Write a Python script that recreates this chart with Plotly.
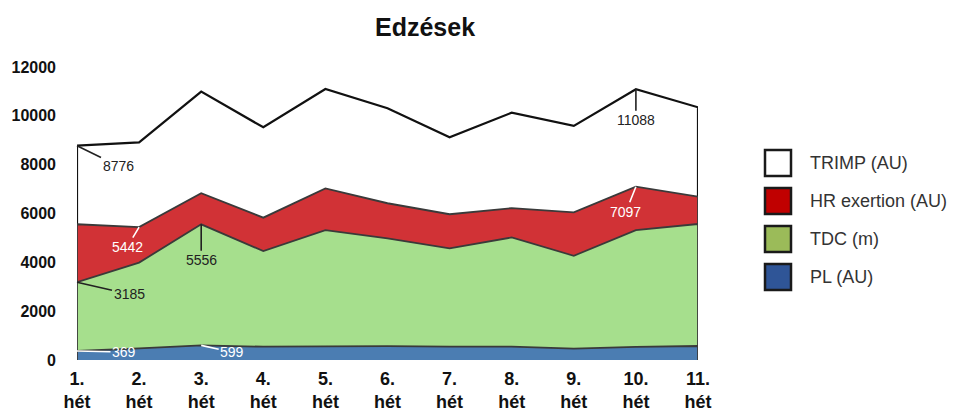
import plotly.graph_objects as go

weeks = ["1.<br>hét", "2.<br>hét", "3.<br>hét", "4.<br>hét", "5.<br>hét", "6.<br>hét",
         "7.<br>hét", "8.<br>hét", "9.<br>hét", "10.<br>hét", "11.<br>hét"]
trimp = [8776, 8910, 10990, 9530, 11100, 10310, 9120, 10130, 9590, 11088, 10350]
hr_exertion = [5560, 5442, 6830, 5830, 7030, 6420, 5970, 6220, 6050, 7097, 6690]
tdc = [3185, 3990, 5556, 4460, 5320, 4980, 4570, 5020, 4270, 5320, 5570]
pl = [369, 480, 599, 545, 573, 570, 545, 545, 465, 540, 573]

series = [
    ("TRIMP (AU)", trimp, "#ffffff", "#111111", "#ffffff"),
    ("HR exertion (AU)", hr_exertion, "#d13236", "#3a3a3a", "#c00000"),
    ("TDC (m)", tdc, "#a6df8d", "#3a3a3a", "#9bbb59"),
    ("PL (AU)", pl, "#4b7db2", "#3a3a3a", "#2f5597"),
]

FONT = "Liberation Sans, Arial, sans-serif"
# page body has an 8px margin, so the figure is a bit smaller than the window
W, H = 950, 406
L, R, T, B = 69, 260, 59, 54
PW, PH = W - L - R, H - T - B

fig = go.Figure()
for name, vals, fill, line, legend_col in series:
    # closed polygon so the area has an outline on all sides
    fig.add_trace(go.Scatter(
        x=[weeks[0]] + weeks + [weeks[-1]], y=[0] + vals + [0],
        mode="lines", fill="toself", fillcolor=fill,
        line=dict(color=line, width=2.2 if name.startswith("TRIMP") else 1.8),
        name=name, showlegend=False, hoverinfo="skip",
    ))

# legend drawn by hand: big outlined squares like the original
for i, (name, vals, fill, line, legend_col) in enumerate(series):
    cx = (770 - L) / PW
    cy = (H - B - (155 + 38 * i)) / PH
    hw, hh = 13 / PW, 13 / PH
    fig.add_shape(type="rect", xref="paper", yref="paper",
                  x0=cx - hw, x1=cx + hw, y0=cy - hh, y1=cy + hh,
                  fillcolor=legend_col, line=dict(color="#1a1a1a", width=2.5))
    fig.add_annotation(xref="paper", yref="paper", x=(800 - L) / PW, y=cy,
                       xanchor="left", yanchor="middle", showarrow=False, text=name,
                       font=dict(family=FONT, size=18, color="#333333"))

def label(x, y, text, ax, ay, color):
    fig.add_annotation(x=x, y=y, text=text, ax=ax, ay=ay, showarrow=True,
                       arrowhead=0, arrowwidth=1.6, arrowcolor=color, standoff=0,
                       font=dict(family=FONT, size=14, color=color))

label(weeks[0], trimp[0], str(trimp[0]), 41, 20, "#222222")
label(weeks[9], trimp[9], str(trimp[9]), 0, 31, "#222222")
label(weeks[1], hr_exertion[1], str(hr_exertion[1]), -12, 20, "#ffffff")
label(weeks[9], hr_exertion[9], str(hr_exertion[9]), -10, 25, "#ffffff")
label(weeks[0], tdc[0], str(tdc[0]), 52, 12, "#222222")
label(weeks[2], tdc[2], str(tdc[2]), 0, 36, "#222222")
label(weeks[0], pl[0], str(pl[0]), 47, 1, "#ffffff")
label(weeks[2], pl[2], str(pl[2]), 31, 7, "#ffffff")

fig.update_layout(
    width=W, height=H,
    margin=dict(l=L, r=R, t=T, b=B),
    paper_bgcolor="white", plot_bgcolor="white",
    font=dict(family=FONT, color="#111111"),
    title=dict(text="<b>Edzések</b>", x=(417 - 0) / W, xanchor="center",
               y=1 - 19 / H, yanchor="middle",
               font=dict(size=25, color="#111111")),
    showlegend=False,
)
fig.update_xaxes(range=[0, 10], showgrid=False, zeroline=False, showline=False,
                 ticks="", automargin=False, ticklabelstandoff=6,
                 tickfont=dict(size=18, color="#111111"),
                 tickprefix="<b>", ticksuffix="</b>")
fig.update_yaxes(range=[0, 12000], dtick=2000, showgrid=False, zeroline=False,
                 showline=False, ticks="", ticklabelstandoff=20, automargin=False,
                 tickformat="d", tickprefix="<b>", ticksuffix="</b>",
                 tickfont=dict(size=16, color="#111111"))

fig.write_html("out.html")
